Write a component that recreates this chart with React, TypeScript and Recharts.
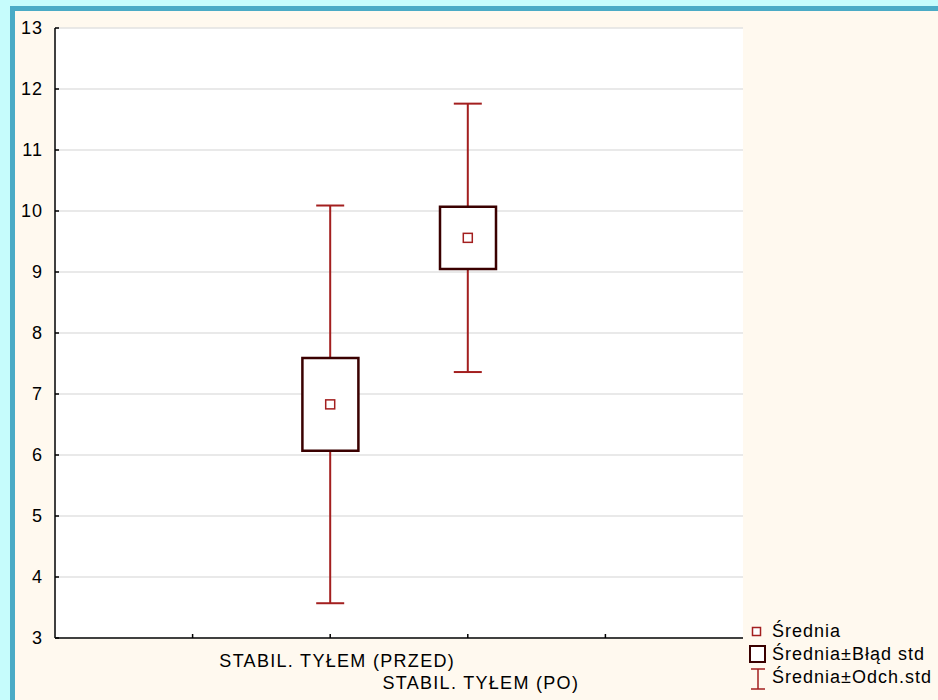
import React from "react";
import {
  ComposedChart,
  Bar,
  Scatter,
  ErrorBar,
  XAxis,
  YAxis,
  CartesianGrid,
} from "recharts";

// categories and their positions on the x axis (0..5)
const categories = ["STABIL. TYŁEM (PRZED)", "STABIL. TYŁEM (PO)"];
const xPositions = [2, 3];

// mean, standard error, standard deviation
const means = [6.83, 9.56];
const stdErrors = [0.76, 0.51];
const stdDevs = [3.26, 2.2];

const yTicks = [3, 4, 5, 6, 7, 8, 9, 10, 11, 12, 13];
const xTicks = [1, 2, 3, 4];

const legendItems = ["Średnia", "Średnia±Błąd std", "Średnia±Odch.std"];

const FONT = "'Liberation Sans', Arial, sans-serif";
const WHISKER = "#a31f1f";
const BOX = "#3a0000";

const data = categories.map((name, i) => ({
  name,
  x: xPositions[i],
  mean: means[i],
  sd: stdDevs[i],
  box: [means[i] - stdErrors[i], means[i] + stdErrors[i]],
}));

const YTick = (props: any) => {
  const { x, y, payload } = props;
  return (
    <g>
      <line x1={x + 12} x2={x + 16} y1={y} y2={y} stroke="#000" strokeWidth={1.5} />
      <text
        x={x}
        y={y}
        dy={6}
        textAnchor="end"
        fontFamily={FONT}
        fontSize={18}
        letterSpacing={1}
        fill="#000"
      >
        {payload.value}
      </text>
    </g>
  );
};

const XTick = (props: any) => {
  const { x, y, payload } = props;
  const idx = xPositions.indexOf(payload.value);
  return (
    <g>
      <line x1={x} x2={x} y1={y} y2={y - 4} stroke="#000" strokeWidth={1.5} />
      {idx >= 0 && (
        <text
          x={x + (idx === 0 ? 7 : 13)}
          y={y}
          dy={idx === 0 ? 29 : 51}
          textAnchor="middle"
          fontFamily={FONT}
          fontSize={18}
          letterSpacing={1.3}
          fill="#000"
        >
          {categories[idx]}
        </text>
      )}
    </g>
  );
};

const MeanMarker = (props: any) => {
  const { cx, cy } = props;
  return (
    <rect
      x={cx - 4.5}
      y={cy - 4.5}
      width={9}
      height={9}
      fill="#fff"
      stroke={WHISKER}
      strokeWidth={1.5}
    />
  );
};

function LegendBox() {
  return (
    <svg
      width={198}
      height={85}
      style={{ position: "absolute", left: 740, top: 615 }}
    >
      <rect x={12.5} y={12.5} width={8} height={8} fill="#fff" stroke={WHISKER} strokeWidth={1.5} />
      <rect x={10} y={31} width={15} height={16} fill="#fff" stroke={BOX} strokeWidth={2} />
      <line x1={11} x2={25} y1={54} y2={54} stroke={WHISKER} strokeWidth={1.5} />
      <line x1={18} x2={18} y1={54} y2={74} stroke={WHISKER} strokeWidth={1.5} />
      <line x1={11} x2={25} y1={74} y2={74} stroke={WHISKER} strokeWidth={1.5} />
      {legendItems.map((t, i) => (
        <text
          key={t}
          x={32}
          y={22 + i * 23}
          fontFamily={FONT}
          fontSize={18}
          letterSpacing={1}
          fill="#000"
        >
          {t}
        </text>
      ))}
    </svg>
  );
}

export default function App() {
  return (
    <div
      style={{
        position: "absolute",
        left: 0,
        top: 0,
        width: 938,
        height: 700,
        background: "#c6fcfc",
        overflow: "hidden",
      }}
    >
      <div
        style={{
          position: "absolute",
          left: 10,
          top: 6,
          width: 960,
          height: 720,
          border: "5px solid #4aabc6",
          background: "#fff9ef",
        }}
      />
      <div style={{ position: "absolute", left: 0, top: 0 }}>
        <ComposedChart
          width={938}
          height={700}
          data={data}
          margin={{ top: 28, right: 195, bottom: 0, left: 0 }}
        >
          <CartesianGrid
            vertical={false}
            fill="#fff"
            stroke="#e2e2e2"
            strokeWidth={1.5}
          />
          <XAxis
            dataKey="x"
            type="number"
            domain={[0, 5]}
            ticks={xTicks}
            height={62}
            axisLine={{ stroke: "#404040", strokeWidth: 2 }}
            tickLine={false}
            tickSize={0}
            tickMargin={0}
            tick={XTick}
          />
          <XAxis
            xAxisId="top"
            orientation="top"
            type="number"
            domain={[0, 5]}
            height={0}
            tick={false}
            tickLine={false}
            axisLine={{ stroke: "#111", strokeWidth: 2 }}
          />
          <YAxis
            type="number"
            domain={[3, 13]}
            ticks={yTicks}
            width={55}
            axisLine={{ stroke: "#404040", strokeWidth: 2 }}
            tickLine={false}
            tickSize={0}
            tickMargin={12}
            tick={YTick}
          />
          <YAxis
            yAxisId="right"
            orientation="right"
            type="number"
            domain={[3, 13]}
            width={0}
            tick={false}
            tickLine={false}
            axisLine={{ stroke: "#111", strokeWidth: 2 }}
          />
          <Scatter dataKey="mean" shape={() => <g />} isAnimationActive={false}>
            <ErrorBar
              dataKey="sd"
              direction="y"
              width={14}
              stroke={WHISKER}
              strokeWidth={2}
              isAnimationActive={false}
            />
          </Scatter>
          <Bar
            dataKey="box"
            barSize={56}
            fill="#fff"
            stroke={BOX}
            strokeWidth={2.5}
            zIndex={550}
            isAnimationActive={false}
          />
          <Scatter
            dataKey="mean"
            shape={MeanMarker}
            zIndex={700}
            isAnimationActive={false}
          />
        </ComposedChart>
      </div>
      <LegendBox />
    </div>
  );
}
